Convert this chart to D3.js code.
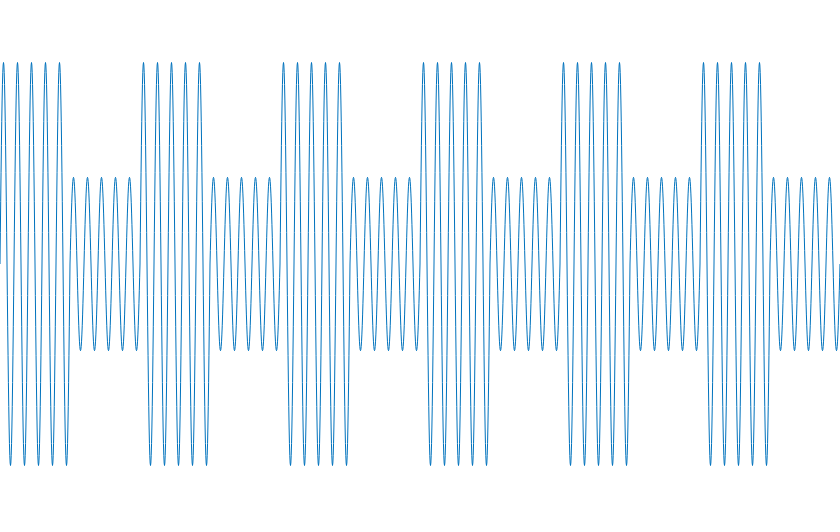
<!DOCTYPE html>
<html>
<head>
<meta charset="utf-8">
<script src="https://cdn.jsdelivr.net/npm/d3@7"></script>
<style>
  html, body { margin: 0; padding: 0; background: #ffffff; }
  svg { display: block; }
</style>
</head>
<body>
<svg id="chart" width="840" height="532"></svg>
<script>
// Data: on/off keyed bit sequence, amplitude for each bit value, carrier cycles per bit
const bits = [1, 0, 1, 0, 1, 0, 1, 0, 1, 0, 1, 0];
const amplitudeLevels = [0.43, 1.0];   // amplitude when bit = 0, bit = 1
const cyclesPerBit = 5;
const samplesPerCycle = 40;

const width = 840, height = 532;
const svg = d3.select("#chart");

// Build the modulated signal samples from the bit sequence
const totalCycles = bits.length * cyclesPerBit;
const nSamples = totalCycles * samplesPerCycle;
const signal = [];
for (let i = 0; i <= nSamples; i++) {
  const t = i / samplesPerCycle;                // time in carrier cycles
  const bitIndex = Math.min(bits.length - 1, Math.floor(t / cyclesPerBit));
  const a = amplitudeLevels[bits[bitIndex]];
  signal.push({ t: t, v: a * Math.sin(2 * Math.PI * t) });
}

const x = d3.scaleLinear().domain([0, totalCycles]).range([0, width]);
const y = d3.scaleLinear().domain([-1, 1]).range([465.5, 62.5]);

const line = d3.line()
  .x(d => x(d.t))
  .y(d => y(d.v));

svg.append("path")
  .datum(signal)
  .attr("fill", "none")
  .attr("stroke", "#0072BD")
  .attr("stroke-width", 1)
  .attr("d", line);
</script>
</body>
</html>
